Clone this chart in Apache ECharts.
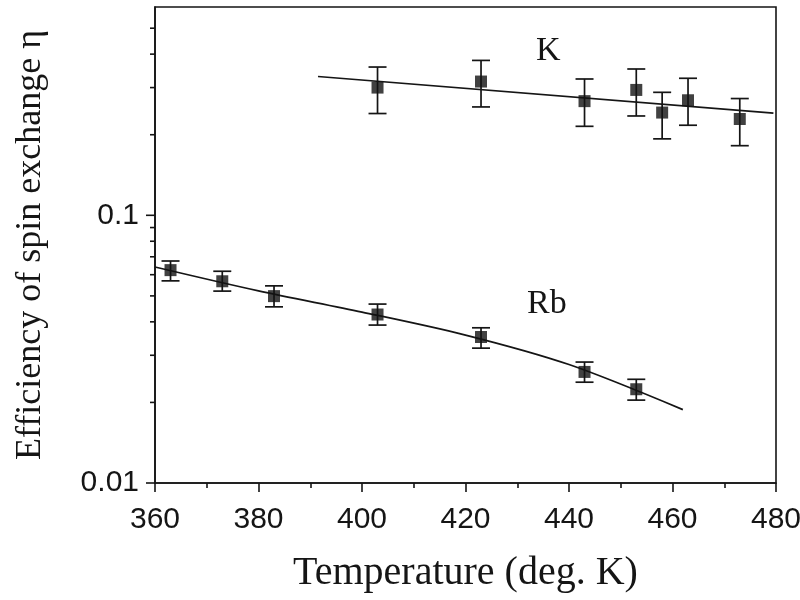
<!DOCTYPE html>
<html><head><meta charset="utf-8">
<script src="https://cdn.jsdelivr.net/npm/echarts@6/dist/echarts.min.js"></script>
<style>html,body{margin:0;padding:0;background:#fff}#c{width:800px;height:600px}</style>
</head><body><div id="c"></div>
<script>
// ---- data ----
const rbTemp = [363, 373, 383, 403, 423, 443, 453];
const rbEff  = [0.0624, 0.0567, 0.0499, 0.0426, 0.0351, 0.0260, 0.0224];
const rbLow  = [0.0569, 0.0521, 0.0455, 0.0389, 0.0319, 0.0238, 0.0204];
const rbHigh = [0.0675, 0.0618, 0.0545, 0.0466, 0.0380, 0.0283, 0.0244];
const rbFitTemp = [360, 380, 400, 420, 440, 462];
const rbFitEff  = [0.0641, 0.0522, 0.0435, 0.0357, 0.0277, 0.0188];

const kTemp = [403, 423, 443, 453, 458, 463, 473];
const kEff  = [0.300, 0.316, 0.267, 0.294, 0.242, 0.269, 0.229];
const kLow  = [0.240, 0.254, 0.215, 0.235, 0.193, 0.217, 0.182];
const kHigh = [0.358, 0.379, 0.323, 0.352, 0.288, 0.325, 0.273];
const kFitTemp = [391.5, 479.5];
const kFitEff  = [0.330, 0.241];

const xMin = 360, xMax = 480, xStep = 20;
const yMin = 0.01, yMax = 0.6;
const yMajorLabels = ['0.01', '0.1'];
const yMajorTicks = [0.01, 0.1];
const yMinorTicks = [0.02, 0.03, 0.04, 0.05, 0.06, 0.07, 0.08, 0.09, 0.2, 0.3, 0.4, 0.5];
const xTitle = 'Temperature (deg. K)';
const yTitle = 'Efficiency of spin exchange η';
const seriesLabels = ['K', 'Rb'];

// ---- chart ----
const INK = '#151515';
const zip = (a, b) => a.map((v, i) => [v, b[i]]);
const errData = (t, lo, hi) => t.map((v, i) => [v, lo[i], hi[i]]);

function errRender(params, api) {
  const x = api.value(0);
  const lo = api.coord([x, api.value(1)]);
  const hi = api.coord([x, api.value(2)]);
  const hw = 9;
  const st = { stroke: INK, lineWidth: 1.7 };
  return { type: 'group', children: [
    { type: 'line', shape: { x1: lo[0], y1: lo[1], x2: hi[0], y2: hi[1] }, style: st },
    { type: 'line', shape: { x1: lo[0] - hw, y1: lo[1], x2: lo[0] + hw, y2: lo[1] }, style: st },
    { type: 'line', shape: { x1: hi[0] - hw, y1: hi[1], x2: hi[0] + hw, y2: hi[1] }, style: st }
  ]};
}

function yTickRender(params, api) {
  const p = api.coord([xMin, api.value(1)]);
  const len = api.value(2);
  return { type: 'line', shape: { x1: p[0] - len, y1: p[1], x2: p[0], y2: p[1] },
           style: { stroke: INK, lineWidth: 1.6 } };
}

const chart = echarts.init(document.getElementById('c'), null, { renderer: 'canvas' });
chart.setOption({
  animation: false,
  backgroundColor: '#fff',
  grid: { left: 155, right: 24, top: 7, bottom: 117, outerBoundsMode: 'none', containLabel: false,
          show: true, borderColor: INK, borderWidth: 1.6, backgroundColor: 'transparent' },
  xAxis: {
    type: 'value', min: xMin, max: xMax, interval: xStep,
    name: xTitle, nameLocation: 'middle', nameGap: 70,
    nameTextStyle: { fontFamily: 'Liberation Serif', fontSize: 40, color: INK },
    axisLine: { show: true, lineStyle: { color: INK, width: 1.6 } },
    axisTick: { show: true, length: 9, lineStyle: { color: INK, width: 1.6 } },
    minorTick: { show: true, splitNumber: 2, length: 5, lineStyle: { color: INK, width: 1.6 } },
    splitLine: { show: false }, minorSplitLine: { show: false },
    axisLabel: { fontFamily: 'Liberation Sans', fontSize: 30, color: INK, margin: 22 }
  },
  yAxis: {
    type: 'log', logBase: 10, min: yMin, max: yMax,
    name: yTitle, nameLocation: 'middle', nameGap: 106, nameRotate: 90,
    nameTextStyle: { fontFamily: 'Liberation Serif', fontSize: 36, color: INK },
    axisLine: { show: true, lineStyle: { color: INK, width: 1.6 } },
    axisTick: { show: false },
    minorTick: { show: false },
    splitLine: { show: false },
    axisLabel: {
      fontFamily: 'Liberation Sans', fontSize: 30, color: INK, margin: 16,
      formatter: v => { const s = yMajorLabels.find(l => Math.abs(parseFloat(l) - v) < 1e-9); return s || ''; }
    }
  },
  series: [
    { type: 'custom', name: 'yTicks', renderItem: yTickRender, clip: false, silent: true,
      data: yMajorTicks.map(v => [xMin, v, 9]).concat(yMinorTicks.map(v => [xMin, v, 5])),
      encode: { x: 0, y: 1 }, z: 1 },
    { type: 'line', name: 'K fit', data: zip(kFitTemp, kFitEff), showSymbol: false, symbol: 'none',
      lineStyle: { color: INK, width: 1.7 }, z: 2 },
    { type: 'line', name: 'Rb fit', data: zip(rbFitTemp, rbFitEff), showSymbol: false, symbol: 'none', smooth: 0.3,
      lineStyle: { color: INK, width: 1.7 }, z: 2 },
    { type: 'custom', name: 'K err', renderItem: errRender, data: errData(kTemp, kLow, kHigh), encode: { x: 0, y: [1, 2] }, z: 3 },
    { type: 'custom', name: 'Rb err', renderItem: errRender, data: errData(rbTemp, rbLow, rbHigh), encode: { x: 0, y: [1, 2] }, z: 3 },
    { type: 'scatter', name: 'K', data: zip(kTemp, kEff), symbol: 'rect', symbolSize: 12, itemStyle: { color: '#111' }, z: 4 },
    { type: 'scatter', name: 'Rb', data: zip(rbTemp, rbEff), symbol: 'rect', symbolSize: 12, itemStyle: { color: '#111' }, z: 4 }
  ],
  graphic: [
    { type: 'text', left: 536, top: 34, style: { text: seriesLabels[0], font: '34px "Liberation Serif"', fill: INK } },
    { type: 'text', left: 527, top: 287, style: { text: seriesLabels[1], font: '34px "Liberation Serif"', fill: INK } }
  ]
});
</script>
</body></html>
